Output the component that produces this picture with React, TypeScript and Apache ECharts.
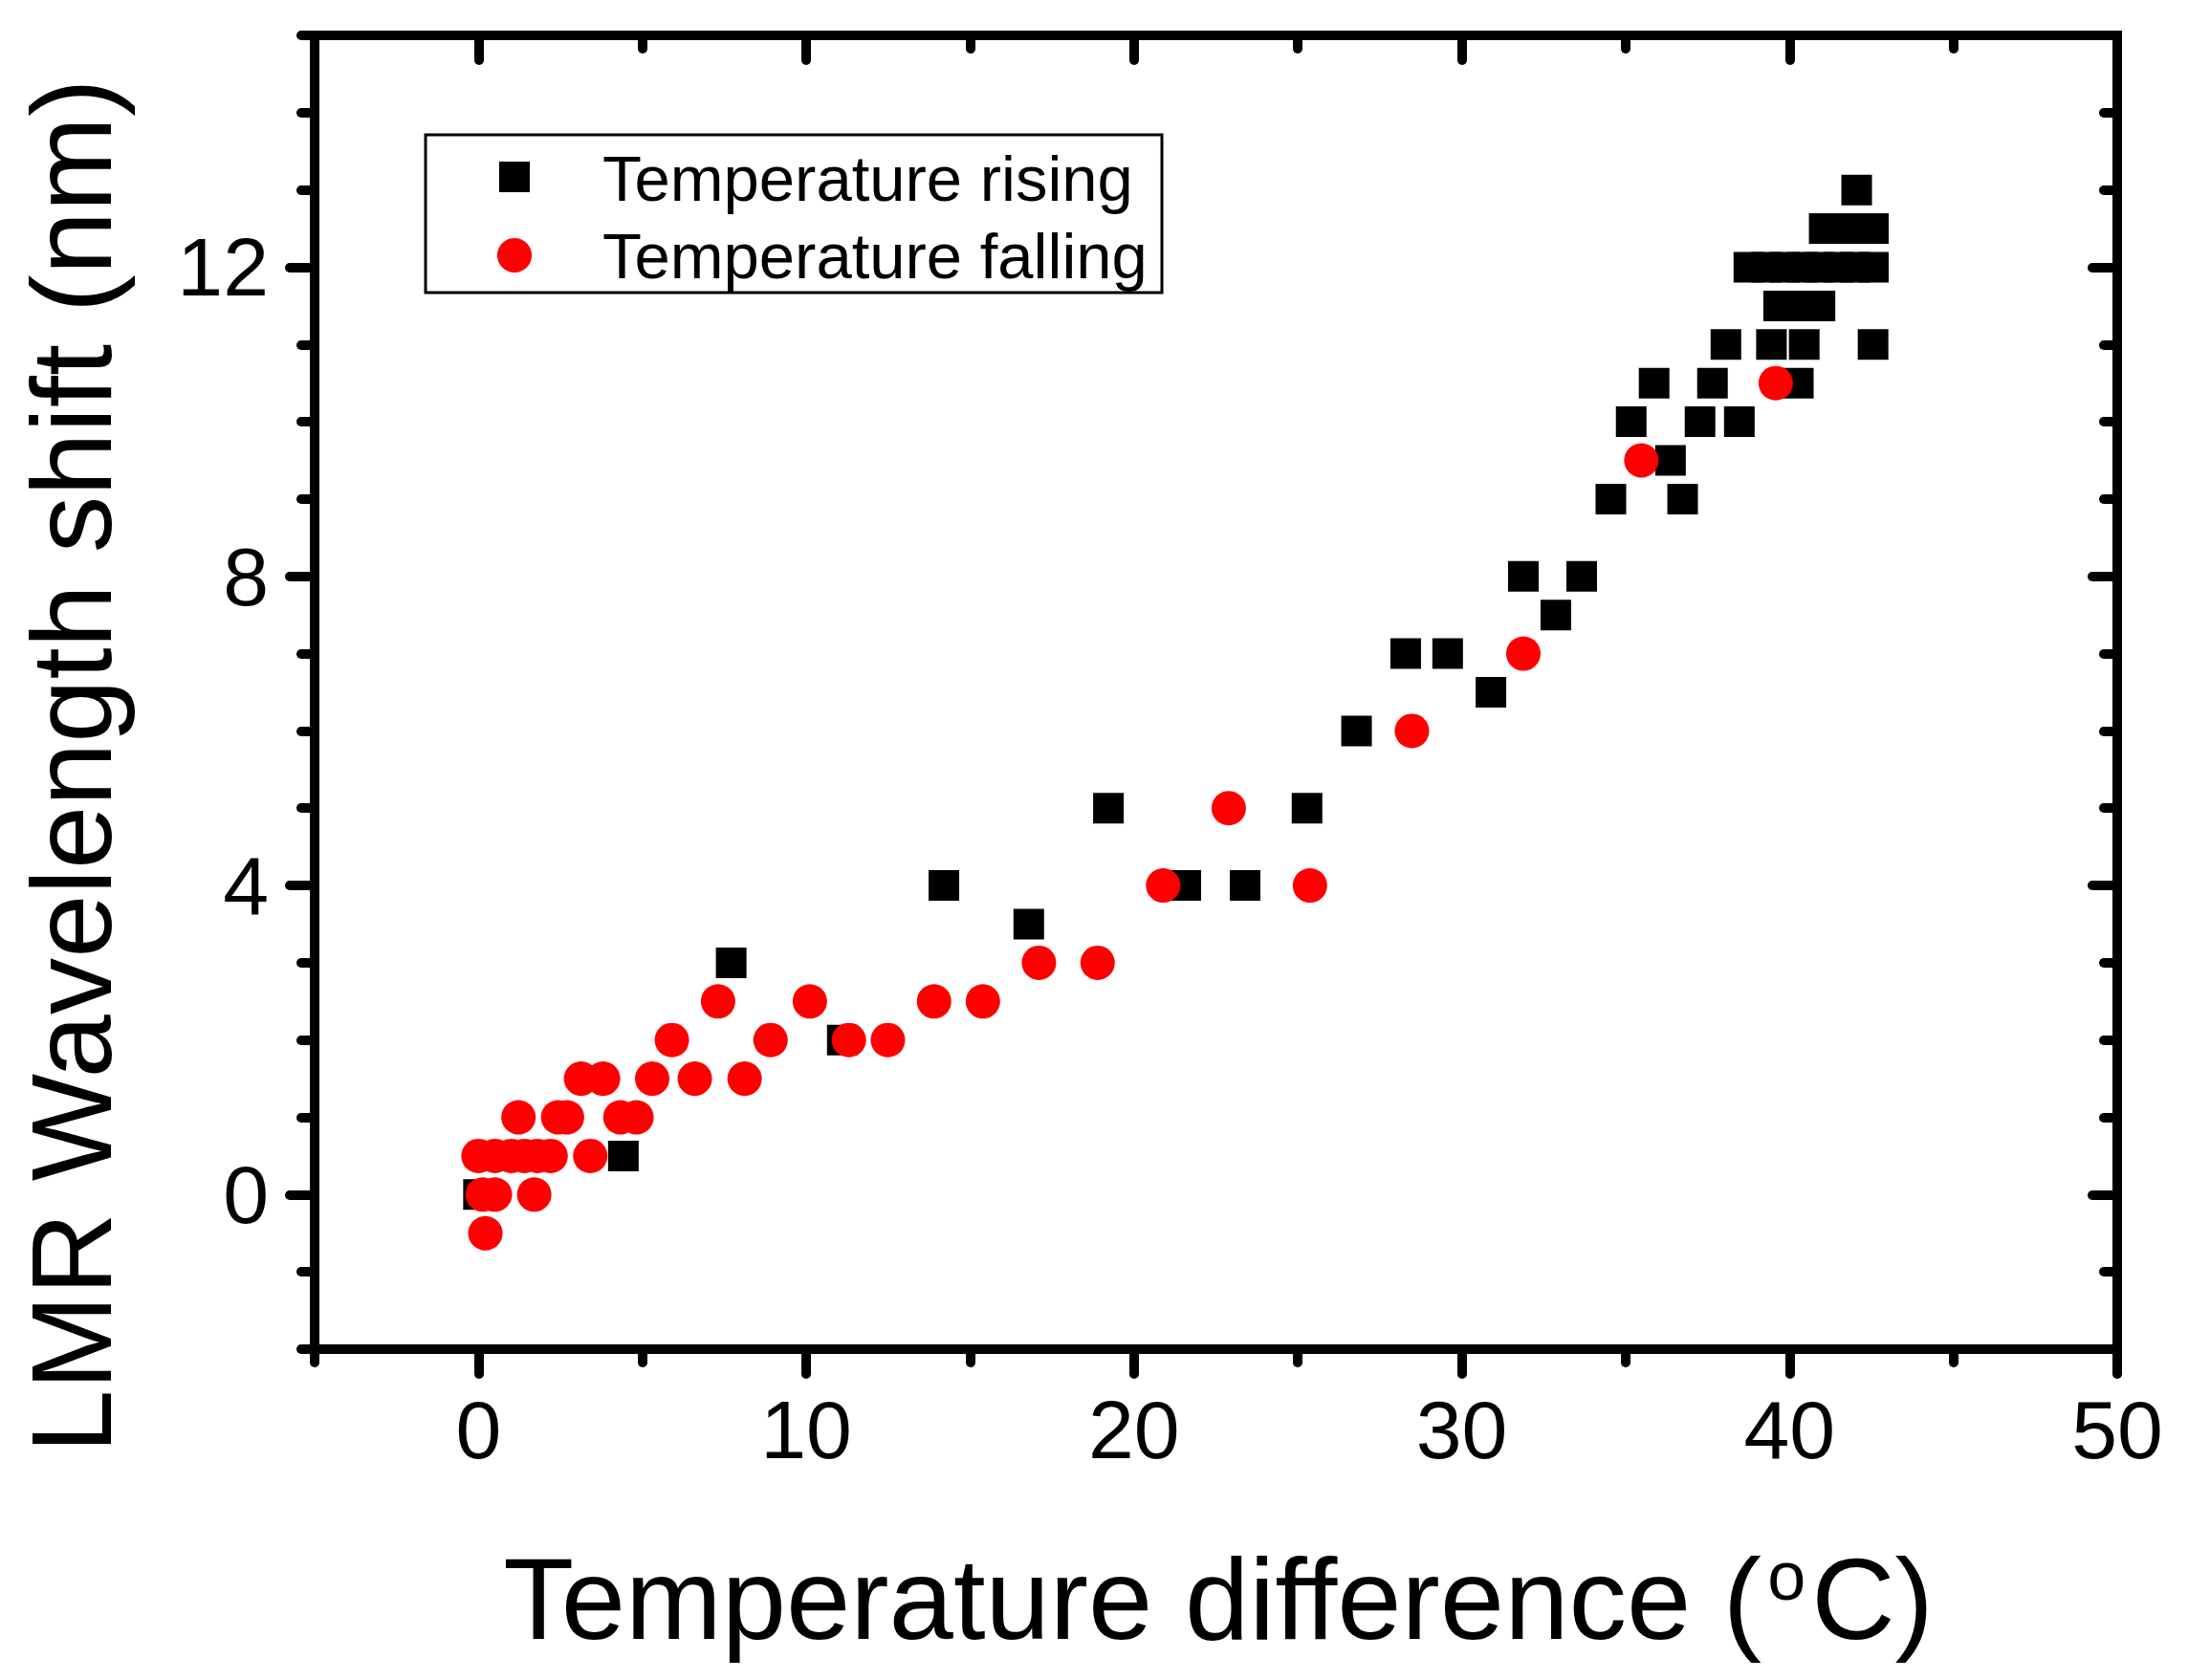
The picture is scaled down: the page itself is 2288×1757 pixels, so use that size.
import React, { useEffect, useRef } from 'react';
import * as echarts from 'echarts';

// Temperature rising (black squares)
const risingX = [0, 4.42, 7.71, 11.1, 14.2, 16.79, 19.22, 21.58, 23.39, 25.28, 26.79, 28.29, 29.57, 30.89, 31.88, 32.87, 33.66, 34.55, 35.17, 35.87, 36.37, 36.74, 37.27, 37.65, 38.06, 38.47, 38.76, 39.3, 39.85, 40.4, 40.9, 41.5, 42.0, 42.56, 39.67, 40.3, 40.93, 39.45, 40.45, 42.55, 40.27, 41.06, 41.6, 42.1, 42.56, 42.05];
const risingY = [0, 0.5, 3, 2, 4, 3.5, 5, 4, 4, 5, 6, 7, 7, 6.5, 8, 7.5, 8, 9, 10, 10.5, 9.5, 9, 10, 10.5, 11, 10, 12, 12, 12, 12, 12, 12, 12, 12, 11.5, 11.5, 11.5, 11, 11, 11, 10.5, 12.5, 12.5, 12.5, 12.5, 13];

// Temperature falling (red circles)
const fallingX = [0.21, 0.13, 0.5, 1.7, 0.0, 0.5, 1.0, 1.4, 1.8, 2.2, 3.41, 1.22, 2.43, 2.7, 4.33, 4.82, 3.13, 3.8, 5.3, 6.6, 8.12, 5.9, 8.91, 11.3, 12.49, 7.31, 10.11, 13.9, 15.39, 17.1, 18.89, 20.89, 25.37, 22.89, 28.48, 31.88, 35.48, 39.58];
const fallingY = [-0.5, 0, 0, 0, 0.5, 0.5, 0.5, 0.5, 0.5, 0.5, 0.5, 1, 1, 1, 1, 1, 1.5, 1.5, 1.5, 1.5, 1.5, 2, 2, 2, 2, 2.5, 2.5, 2.5, 2.5, 3, 3, 4, 4, 5, 6, 7, 9.5, 10.5];

const xMajorTicks = [0, 10, 20, 30, 40, 50];
const xMinorTicks = [-5, 5, 15, 25, 35, 45];
const yMajorTicks = [0, 4, 8, 12];
const yMinorTicks = [-2, -1, 1, 2, 3, 5, 6, 7, 9, 10, 11, 13, 14, 15];

const seriesNames = ['Temperature rising', 'Temperature falling'];
const xTitle = 'Temperature difference (';
const yTitle = 'LMR Wavelength shift (nm)';

const FONT = "'Liberation Sans', Arial, sans-serif";

function axis(
  kind: 'x' | 'y',
  position: string,
  ticks: number[],
  length: number,
  inside: boolean,
  showLine: boolean,
  labels: number[] | null
) {
  const isX = kind === 'x';
  return {
    type: 'value',
    position,
    min: isX ? -5 : -2,
    max: isX ? 50 : 15,
    axisLine: {
      show: showLine,
      onZero: false,
      lineStyle: { color: '#000', width: 10, cap: 'square' },
    },
    axisTick: {
      show: true,
      inside,
      length,
      customValues: ticks,
      lineStyle: { color: '#000', width: 10, cap: 'round' },
    },
    axisLabel: labels
      ? {
          show: true,
          customValues: labels,
          fontSize: 86,
          fontFamily: FONT,
          color: '#000',
          margin: isX ? 41 : 48,
        }
      : { show: false },
    splitLine: { show: false },
    minorTick: { show: false },
  };
}

export default function App() {
  const ref = useRef<HTMLDivElement>(null);

  useEffect(() => {
    document.body.style.margin = '0';
    document.body.style.overflow = 'hidden';
    const chart = echarts.init(ref.current!, undefined, { renderer: 'svg' });

    const risingData = risingX.map((x, i) => [x, risingY[i]]);
    const fallingData = fallingX.map((x, i) => [x, fallingY[i]]);

    chart.setOption({
      animation: false,
      backgroundColor: '#fff',
      grid: {
        left: 329,
        right: 74,
        top: 37,
        bottom: 346,
        outerBoundsMode: 'none',
        containLabel: false,
      },
      xAxis: [
        axis('x', 'bottom', xMajorTicks, 26, false, true, xMajorTicks),
        axis('x', 'bottom', xMinorTicks, 14, false, false, null),
        axis('x', 'top', xMajorTicks, 26, true, true, null),
        axis('x', 'top', xMinorTicks, 14, true, false, null),
      ],
      yAxis: [
        axis('y', 'left', yMajorTicks, 26, false, true, yMajorTicks),
        axis('y', 'left', yMinorTicks, 14, false, false, null),
        axis('y', 'right', yMajorTicks, 26, true, true, null),
        axis('y', 'right', yMinorTicks, 14, true, false, null),
      ],
      series: [
        {
          type: 'scatter',
          name: seriesNames[0],
          xAxisIndex: 0,
          yAxisIndex: 0,
          symbol: 'rect',
          symbolSize: 32,
          itemStyle: { color: '#000000', opacity: 1 },
          data: risingData,
          z: 2,
        },
        {
          type: 'scatter',
          name: seriesNames[1],
          xAxisIndex: 0,
          yAxisIndex: 0,
          symbol: 'circle',
          symbolSize: 36,
          itemStyle: { color: '#ff0000', opacity: 1 },
          data: fallingData,
          z: 3,
        },
      ],
      graphic: [
        {
          type: 'rect',
          z: 100,
          shape: { x: 445, y: 141, width: 770, height: 165 },
          style: { fill: '#fff', stroke: '#000', lineWidth: 3 },
        },
        {
          type: 'rect',
          z: 101,
          shape: { x: 522, y: 169, width: 32, height: 32 },
          style: { fill: '#000' },
        },
        {
          type: 'circle',
          z: 101,
          shape: { cx: 538, cy: 267, r: 18 },
          style: { fill: '#ff0000' },
        },
        {
          type: 'text',
          z: 101,
          x: 630,
          y: 186,
          style: {
            text: seriesNames[0],
            fontSize: 67,
            fontFamily: FONT,
            fill: '#000',
            align: 'left',
            verticalAlign: 'middle',
          },
        },
        {
          type: 'text',
          z: 101,
          x: 630,
          y: 267,
          style: {
            text: seriesNames[1],
            fontSize: 67,
            fontFamily: FONT,
            fill: '#000',
            align: 'left',
            verticalAlign: 'middle',
          },
        },
        {
          type: 'text',
          z: 101,
          x: 74,
          y: 801,
          rotation: Math.PI / 2,
          style: {
            text: yTitle,
            fontSize: 119,
            fontFamily: FONT,
            fill: '#000',
            align: 'center',
            verticalAlign: 'middle',
          },
        },
        {
          type: 'text',
          z: 101,
          x: 1274,
          y: 1672,
          style: {
            text: '{a|' + xTitle + '}{s|o}{a|C)}',
            fill: '#000',
            align: 'center',
            verticalAlign: 'middle',
            rich: {
              a: { fontSize: 121, fontFamily: FONT, fill: '#000' },
              s: { fontSize: 72, fontFamily: FONT, fill: '#000', verticalAlign: 'top', lineHeight: 8, padding: [0, 6, 0, 6] },
            },
          },
        },
      ],
    });

    return () => chart.dispose();
  }, []);

  return <div ref={ref} style={{ width: 2288, height: 1757 }} />;
}
